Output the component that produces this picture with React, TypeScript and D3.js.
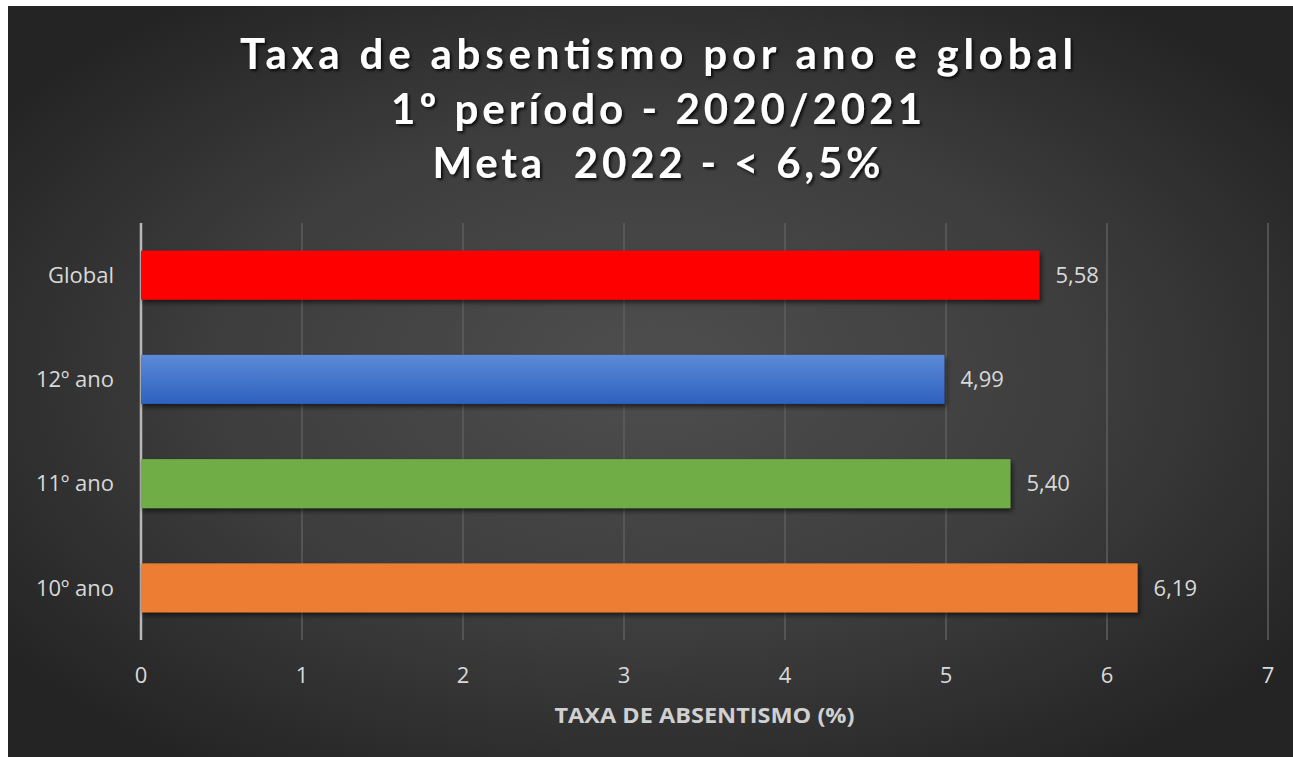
import React from "react";
import * as d3 from "d3";

const categories = ["Global", "12º ano", "11º ano", "10º ano"];
const values = [5.58, 4.99, 5.4, 6.19];
const valueLabels = ["5,58", "4,99", "5,40", "6,19"];
const barColors = ["#ff0000", "#4472c4", "#70ad47", "#ed7d31"];
const xTicks = [0, 1, 2, 3, 4, 5, 6, 7];
const titleLines = ["Taxa de absentismo por ano e global", "1º período - 2020/2021", "Meta  2022 - < 6,5%"];
const axisTitle = "TAXA DE ABSENTISMO (%)";

const W = 1285;
const H = 751;
const OX = 8;
const OY = 6;

export default function App() {
  const x = d3.scaleLinear().domain([0, 7]).range([141 - OX, 1268 - OX]);
  const y = d3.scaleBand<string>().domain(categories).range([223 - OY, 640 - OY]).paddingInner(0.53).paddingOuter(0.265);
  const titleWidths = [833, 531, 448];
  const titleY = [69, 124, 178];
  const font = "'Open Sans', sans-serif";
  return (
    <svg width={W} height={H} style={{ position: "absolute", left: OX, top: OY, display: "block" }}>
      <defs>
        <radialGradient id="bg" cx="0.5" cy="0.5" r="0.62" fx="0.5" fy="0.48">
          <stop offset="0" stopColor="#4e4e4e" />
          <stop offset="0.55" stopColor="#3d3d3d" />
          <stop offset="1" stopColor="#242424" />
        </radialGradient>
        <linearGradient id="blueGrad" x1="0" y1="0" x2="0" y2="1">
          <stop offset="0" stopColor="#5c8ad8" />
          <stop offset="1" stopColor="#2d61bf" />
        </linearGradient>
        <filter id="shadow" x="-5%" y="-20%" width="110%" height="160%">
          <feGaussianBlur in="SourceAlpha" stdDeviation="2.5" />
          <feOffset dx="2" dy="3" result="b" />
          <feComponentTransfer><feFuncA type="linear" slope="0.6" /></feComponentTransfer>
          <feMerge>
            <feMergeNode />
            <feMergeNode in="SourceGraphic" />
          </feMerge>
        </filter>
        <filter id="tshadow" x="-5%" y="-20%" width="110%" height="160%">
          <feGaussianBlur in="SourceAlpha" stdDeviation="1.5" />
          <feOffset dx="2" dy="2" />
          <feComponentTransfer><feFuncA type="linear" slope="0.8" /></feComponentTransfer>
          <feMerge>
            <feMergeNode />
            <feMergeNode in="SourceGraphic" />
          </feMerge>
        </filter>
      </defs>
      <rect x={0} y={0} width={W} height={H} fill="url(#bg)" />
      {titleLines.map((t, i) => (
        <text
          key={t}
          x={(240 + 1073) / 2 - OX}
          y={titleY[i] - OY}
          textAnchor="middle"
          fill="#ffffff"
          fontFamily="Lato, sans-serif"
          fontWeight={700}
          fontSize={42}
          textLength={titleWidths[i]}
          lengthAdjust="spacing"
          filter="url(#tshadow)"
          style={{ whiteSpace: "pre" }}
        >
          {t}
        </text>
      ))}
      {xTicks.map((t) => (
        <line
          key={"g" + t}
          x1={x(t)}
          x2={x(t)}
          y1={223 - OY}
          y2={640 - OY}
          stroke={t === 0 ? "#b8b8b8" : "#5e5e5e"}
          strokeWidth={t === 0 ? 2.5 : 1.5}
        />
      ))}
      {categories.map((c, i) => (
        <rect
          key={c}
          x={x(0)}
          y={y(c)}
          width={x(values[i]) - x(0)}
          height={y.bandwidth()}
          fill={i === 1 ? "url(#blueGrad)" : barColors[i]}
          filter="url(#shadow)"
        />
      ))}
      {categories.map((c, i) => (
        <text
          key={"v" + c}
          x={x(values[i]) + 16}
          y={(y(c) as number) + y.bandwidth() / 2}
          dy="0.35em"
          fill="#d9d9d9"
          fontFamily={font}
          fontSize={22}
        >
          {valueLabels[i]}
        </text>
      ))}
      {categories.map((c) => (
        <text
          key={"c" + c}
          x={114 - OX}
          y={(y(c) as number) + y.bandwidth() / 2}
          dy="0.35em"
          textAnchor="end"
          fill="#d9d9d9"
          fontFamily={font}
          fontSize={22}
        >
          {c}
        </text>
      ))}
      {xTicks.map((t) => (
        <text
          key={"t" + t}
          x={x(t)}
          y={675 - OY}
          dy="0.35em"
          textAnchor="middle"
          fill="#d9d9d9"
          fontFamily={font}
          fontSize={22}
        >
          {t}
        </text>
      ))}
      <text
        x={(x(0) + x(7)) / 2}
        y={723 - OY}
        textAnchor="middle"
        fill="#d0d0d0"
        fontFamily={font}
        fontWeight={700}
        fontSize={22}
        textLength={300}
        lengthAdjust="spacingAndGlyphs"
      >
        {axisTitle}
      </text>
    </svg>
  );
}
